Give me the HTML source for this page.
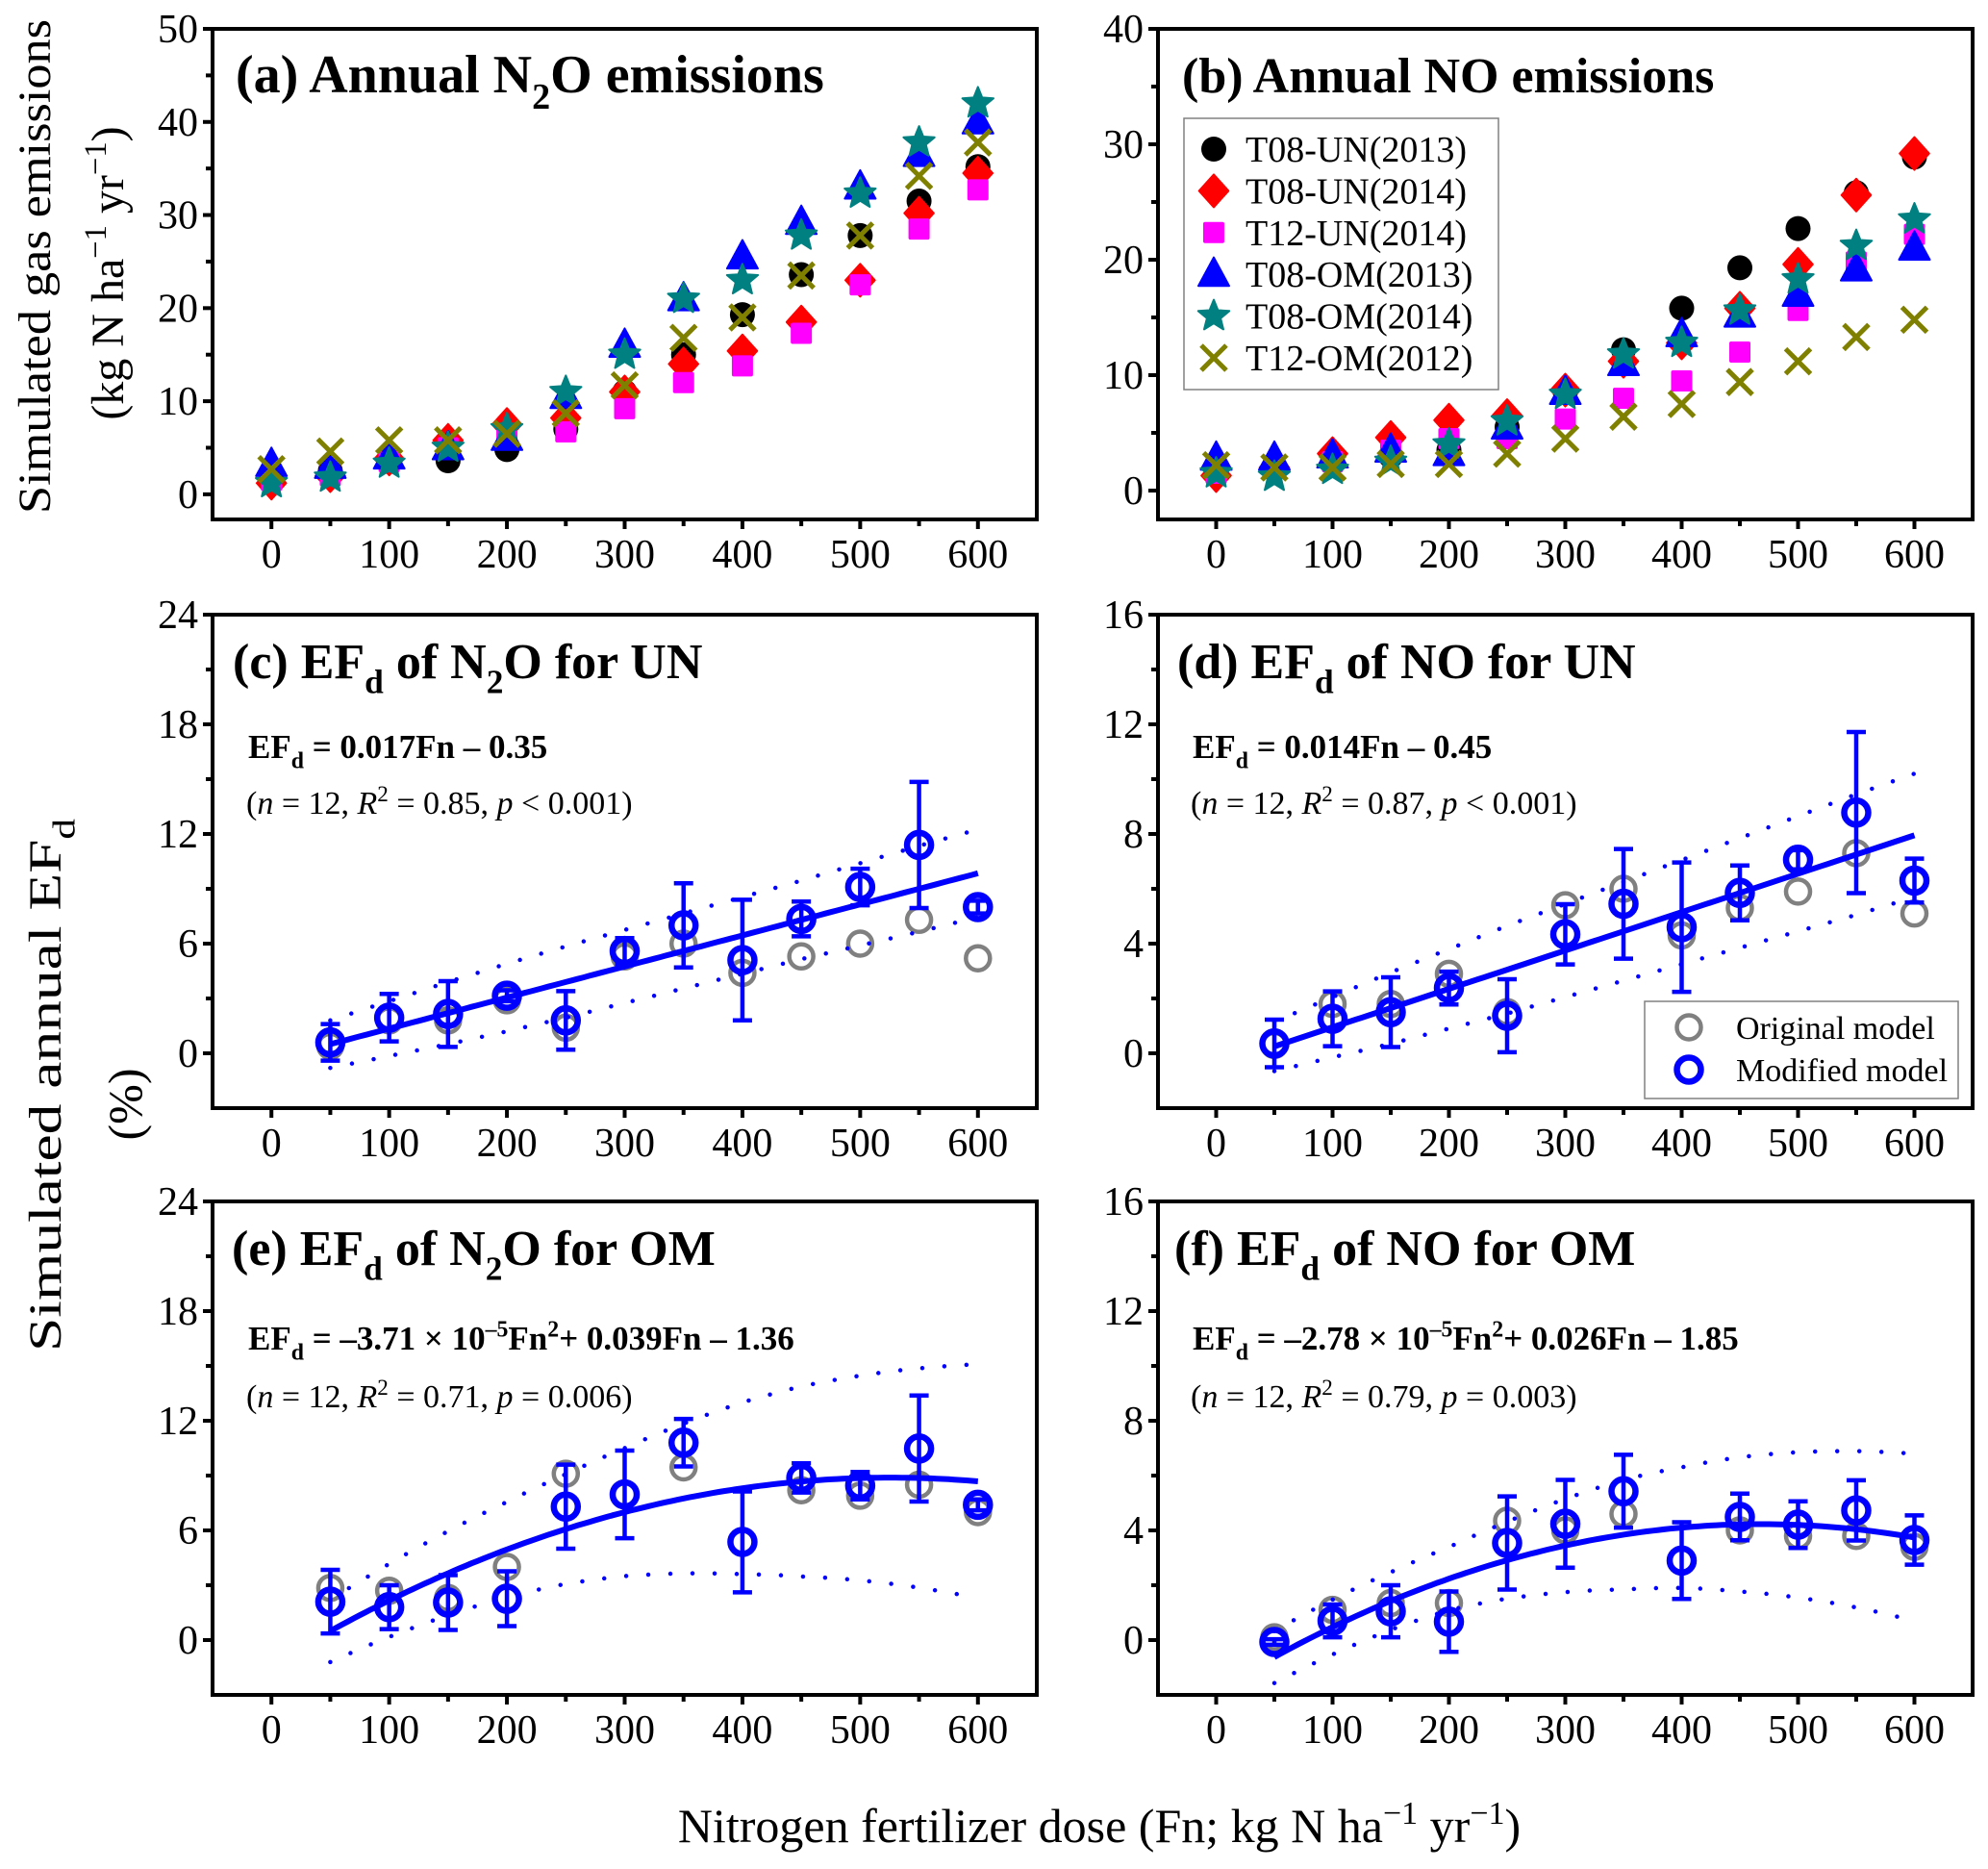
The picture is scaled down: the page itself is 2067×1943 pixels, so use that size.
<!DOCTYPE html>
<html><head><meta charset="utf-8"><title>Simulated emissions and EFd</title>
<style>
html,body{margin:0;padding:0;background:#fff;}
svg{display:block;font-family:"Liberation Serif","Times New Roman",serif;}
</style></head>
<body>
<svg id="fig" xmlns="http://www.w3.org/2000/svg" width="2067" height="1943" viewBox="0 0 2067 1943">
<rect x="0" y="0" width="2067" height="1943" fill="#fff"/>
</svg>
<script>
// ---------- DATA ----------
const doses = [0,50,100,150,200,250,300,350,400,450,500,550,600];
const efDoses = [50,100,150,200,250,300,350,400,450,500,550,600];

const n2oLabels = ["T08-UN(2013)","T08-UN(2014)","T12-UN(2014)","T08-OM(2013)","T08-OM(2014)","T12-OM(2012)"];
// Panel (a) N2O
const n2o_t08un2013 = [2.2,2.5,3.5,3.6,4.8,7.0,11.0,15.0,19.3,23.6,27.8,31.5,35.2];
const n2o_t08un2014 = [1.2,2.0,3.8,5.8,7.5,8.2,11.0,14.0,15.4,18.5,23.0,30.2,34.5];
const n2o_t12un2014 = [1.5,2.0,3.5,5.0,6.5,6.7,9.2,12.0,13.8,17.3,22.5,28.5,32.7];
const n2o_t08om2013 = [3.2,3.0,4.0,5.0,6.0,10.5,16.0,21.0,25.5,29.2,33.0,36.5,40.0];
const n2o_t08om2014 = [1.2,1.8,3.3,5.0,7.0,11.0,15.0,21.0,23.0,27.8,32.3,37.8,42.0];
const n2o_t12om2012 = [2.7,4.6,5.8,5.8,6.5,8.7,11.7,16.8,19.0,23.5,27.8,34.2,37.8];
// Panel (b) NO
const no_t08un2013 = [2.0,2.0,2.5,3.0,3.5,5.5,8.5,12.2,15.8,19.3,22.7,25.8,28.9];
const no_t08un2014 = [1.3,2.0,3.2,4.6,6.1,6.5,8.7,11.2,12.8,15.8,19.6,25.6,29.2];
const no_t12un2014 = [1.5,2.0,2.5,3.5,4.5,4.5,6.2,8.0,9.5,12.0,15.6,19.8,22.2];
const no_t08om2013 = [2.8,2.8,3.0,3.5,3.2,5.5,8.5,11.0,13.5,15.2,17.0,19.2,21.0];
const no_t08om2014 = [1.5,1.2,1.8,2.5,4.0,6.0,8.3,11.8,12.8,15.6,18.3,21.2,23.5];
const no_t12om2012 = [2.2,2.0,2.0,2.3,2.3,3.2,4.5,6.4,7.5,9.4,11.2,13.3,14.8];

// Panel (c) EFd N2O UN
const c_original = [0.4,1.8,1.8,2.9,1.4,5.3,6.0,4.4,5.3,6.0,7.3,5.2];
const c_modified = [0.6,1.95,2.15,3.15,1.8,5.6,7.0,5.1,7.35,9.1,11.4,8.0];
const c_error = [1.0,1.3,1.8,0.3,1.6,0.7,2.3,3.3,0.95,1.0,3.45,0.35];
const c_fit = [0, 0.017, -0.35];
const c_band = [1.3,1.5,1.7,1.85,1.95,2.0,2.05,2.1,2.15,2.25,2.35,2.4];
// Panel (d) EFd NO UN
const d_original = [0.3,1.8,1.8,2.9,1.5,5.4,6.0,4.3,5.3,5.9,7.3,5.1];
const d_modified = [0.36,1.26,1.5,2.38,1.37,4.34,5.45,4.6,5.85,7.06,8.78,6.3];
const d_error = [0.87,1.0,1.27,0.6,1.33,1.1,2.0,2.36,1.0,0.35,2.94,0.8];
const d_fit = [0, 0.014, -0.45];
const d_band = [0.9,1.1,1.3,1.45,1.6,1.7,1.8,1.9,2.0,2.1,2.2,2.25];
// Panel (e) EFd N2O OM
const e_original = [2.85,2.7,2.3,4.0,9.1,8.0,9.45,5.4,8.2,7.9,8.5,7.0];
const e_modified = [2.1,1.8,2.05,2.26,7.3,7.97,10.8,5.37,8.87,8.45,10.48,7.4];
const e_error = [1.74,1.2,1.5,1.5,2.3,2.4,1.3,2.76,0.8,0.75,2.9,0.3];
const e_fit = [-3.71e-5, 0.039, -1.36];
const e_band = [1.7,2.0,2.3,2.6,3.0,3.5,4.1,4.7,5.2,5.6,6.0,6.4];
// Panel (f) EFd NO OM
const f_original = [0.1,1.1,1.35,1.35,4.35,4.0,4.6,2.9,4.0,3.8,3.8,3.4];
const f_modified = [-0.07,0.7,1.05,0.67,3.54,4.24,5.43,2.9,4.49,4.21,4.73,3.65];
const f_error = [0.1,0.6,0.95,1.1,1.7,1.6,1.33,1.4,0.85,0.85,1.1,0.9];
const f_fit = [-2.78e-5, 0.026, -1.85];
const f_band = [0.95,1.0,1.05,1.15,1.4,1.7,2.0,2.2,2.45,2.65,2.85,3.05];

const xTickLabels = ["0","100","200","300","400","500","600"];
const yTicksA = [0,10,20,30,40,50];
const yTicksB = [0,10,20,30,40];
const yTicksN2OEF = [0,6,12,18,24];
const yTicksNOEF = [0,4,8,12,16];

// ---------- HELPERS ----------
const NS = "http://www.w3.org/2000/svg";
const svg = document.getElementById("fig");
function mk(tag, attrs, parent){
  const el = document.createElementNS(NS, tag);
  for (const k in attrs) el.setAttribute(k, attrs[k]);
  (parent || svg).appendChild(el);
  return el;
}
function rich(parent, x, y, parts, size, weight, anchor){
  const t = mk("text", {x:x, y:y, "font-size":size, "font-weight":weight||"normal", "text-anchor":anchor||"start", fill:"#000"}, parent);
  let shift = 0;
  parts.forEach(p => {
    const [s, kind] = p;
    const ts = mk("tspan", {}, t);
    let target = 0, fs = size;
    if (kind === "sub"){ target = size*0.3; fs = size*0.68; }
    else if (kind === "sup"){ target = -size*0.38; fs = size*0.68; }
    ts.setAttribute("dy", target - shift);
    shift = target;
    ts.setAttribute("font-size", fs);
    if (kind === "i") ts.setAttribute("font-style", "italic");
    ts.textContent = s;
  });
  return t;
}

function makePanel(p){
  const g = mk("g", {});
  
  
  p.g = g;
  p.sx = v => p.x0 + (v - p.xmin) / (p.xmax - p.xmin) * (p.x1 - p.x0);
  p.sy = v => p.y1 - (v - p.ymin) / (p.ymax - p.ymin) * (p.y1 - p.y0);
  const ax = mk("g", {stroke:"#000", "stroke-width":4}, g);
  
  
  for (let v = 0; v <= 600; v += 50){
    const major = v % 100 === 0;
    mk("line", {x1:p.sx(v), x2:p.sx(v), y1:p.y1, y2:p.y1 + (major?10:7)}, ax);
  }
  p.yticks.forEach((v,i) => {
    mk("line", {x1:p.x0 - 10, x2:p.x0, y1:p.sy(v), y2:p.sy(v)}, ax);
    if (i < p.yticks.length - 1){
      const m = (v + p.yticks[i+1]) / 2;
      mk("line", {x1:p.x0 - 7, x2:p.x0, y1:p.sy(m), y2:p.sy(m)}, ax);
    }
  });
  const frame = mk("rect", {x:p.x0, y:p.y0, width:p.x1-p.x0, height:p.y1-p.y0, fill:"none", stroke:"#000", "stroke-width":4}, g);
  
  
  xTickLabels.forEach(s => {
    const t = mk("text", {x:p.sx(+s), y:p.y1 + 50, "font-size":42, "text-anchor":"middle"}, g);
    
    
    t.textContent = s;
  });
  p.yticks.forEach(v => {
    const t = mk("text", {x:p.x0 - 15, y:p.sy(v) + 14, "font-size":42, "text-anchor":"end"}, g);
    
    
    t.textContent = String(v);
  });
  return p;
}

function marker(parent, kind, cx, cy, scale){
  const s = scale || 1;
  let el;
  if (kind === "circle") el = mk("circle", {cx:cx, cy:cy, r:13*s, fill:"#000"}, parent);
  else if (kind === "diamond"){ const r=17*s; el = mk("polygon", {points:`${cx},${cy-r} ${cx+r*0.9},${cy} ${cx},${cy+r} ${cx-r*0.9},${cy}`, fill:"#ff0000", "stroke":"#ff0000","stroke-width":2,"stroke-linejoin":"round"}, parent); }
  else if (kind === "square"){ const r=11*s; el = mk("rect", {x:cx-r, y:cy-r, width:2*r, height:2*r, rx:2, fill:"#ff00ff"}, parent); }
  else if (kind === "triangle"){ const r=16*s; el = mk("polygon", {points:`${cx},${cy-r*1.1} ${cx+r},${cy+r*0.75} ${cx-r},${cy+r*0.75}`, fill:"#0000ff","stroke":"#0000ff","stroke-width":2,"stroke-linejoin":"round"}, parent); }
  else if (kind === "star"){
    const R=17*s, r=7.5*s; let pts=[];
    for (let i=0;i<10;i++){ const a=-Math.PI/2 + i*Math.PI/5; const rr = i%2?r:R; pts.push((cx+rr*Math.cos(a)).toFixed(1)+","+(cy+rr*Math.sin(a)).toFixed(1)); }
    el = mk("polygon", {points:pts.join(" "), fill:"#008080","stroke":"#008080","stroke-width":2,"stroke-linejoin":"round"}, parent);
  }
  else if (kind === "x"){
    const r=13*s;
    el = mk("path", {d:`M${cx-r},${cy-r}L${cx+r},${cy+r}M${cx+r},${cy-r}L${cx-r},${cy+r}`, stroke:"#808000", "stroke-width":5, fill:"none"}, parent);
  }
  return el;
}
const kinds = ["circle","diamond","square","triangle","star","x"];

function drawScatter(p, seriesList, prefix){
  seriesList.forEach((arr, si) => {
    const sg = mk("g", {}, p.g);
    
    
    arr.forEach((v, i) => {
      const m = marker(sg, kinds[si], p.sx(doses[i]), p.sy(v));
      
      
    });
  });
}

function fitVal(c, x){ return c[0]*x*x + c[1]*x + c[2]; }
function bandAt(band, x){
  const i = Math.min(Math.max(Math.floor((x-50)/50),0),10);
  const t = (x - efDoses[i]) / 50;
  return band[i] + (band[i+1]-band[i]) * t;
}

function drawEF(p, orig, mod, err, fit, band){
  const og = mk("g", {}, p.g);
  
  
  orig.forEach((v,i) => {
    const c = mk("circle", {cx:p.sx(efDoses[i]), cy:p.sy(v), r:12.5, fill:"none", stroke:"#808080", "stroke-width":4.5}, og);
    
    
  });
  let fitPts = [], up = [], lo = [];
  for (let x = 50; x <= 600.01; x += 5){
    const y = fitVal(fit, x), h = bandAt(band, x);
    fitPts.push(p.sx(x).toFixed(1)+","+p.sy(y).toFixed(1));
    up.push(p.sx(x).toFixed(1)+","+p.sy(y+h).toFixed(1));
    lo.push(p.sx(x).toFixed(1)+","+p.sy(y-h).toFixed(1));
  }
  const bu = mk("polyline", {points:up.join(" "), fill:"none", stroke:"#0000ff", "stroke-width":4.5, "stroke-linecap":"round", "stroke-dasharray":"0 23"}, p.g);
  
  
  const bl = mk("polyline", {points:lo.join(" "), fill:"none", stroke:"#0000ff", "stroke-width":4.5, "stroke-linecap":"round", "stroke-dasharray":"0 23"}, p.g);
  
  
  const fl = mk("polyline", {points:fitPts.join(" "), fill:"none", stroke:"#0000ff", "stroke-width":6}, p.g);
  
  
  const mg = mk("g", {}, p.g);
  
  
  mod.forEach((v,i) => {
    const cx = p.sx(efDoses[i]);
    const yt = p.sy(v + err[i]), yb = p.sy(v - err[i]);
    const eb = mk("path", {d:`M${cx},${yt}V${yb}M${cx-10},${yt}H${cx+10}M${cx-10},${yb}H${cx+10}`, stroke:"#0000ff", "stroke-width":4.5, fill:"none"}, mg);
    
    
    const c = mk("circle", {cx:cx, cy:p.sy(v), r:12.5, fill:"none", stroke:"#0000ff", "stroke-width":6.5}, mg);
    
    
  });
}

// ---------- PANELS ----------
const pA = makePanel({name:"panel-a-n2o-emissions", x0:221, x1:1078, y0:30, y1:540, xmin:-50, xmax:650, ymin:-2.7, ymax:50, yticks:yTicksA});
const pB = makePanel({name:"panel-b-no-emissions", x0:1204, x1:2051, y0:30, y1:540, xmin:-50, xmax:650, ymin:-2.5, ymax:40, yticks:yTicksB});
const pC = makePanel({name:"panel-c-efd-n2o-un", x0:221, x1:1078, y0:639, y1:1152, xmin:-50, xmax:650, ymin:-3, ymax:24, yticks:yTicksN2OEF});
const pD = makePanel({name:"panel-d-efd-no-un", x0:1204, x1:2051, y0:639, y1:1152, xmin:-50, xmax:650, ymin:-2, ymax:16, yticks:yTicksNOEF});
const pE = makePanel({name:"panel-e-efd-n2o-om", x0:221, x1:1078, y0:1249, y1:1762, xmin:-50, xmax:650, ymin:-3, ymax:24, yticks:yTicksN2OEF});
const pF = makePanel({name:"panel-f-efd-no-om", x0:1204, x1:2051, y0:1249, y1:1762, xmin:-50, xmax:650, ymin:-2, ymax:16, yticks:yTicksNOEF});

drawScatter(pA, [n2o_t08un2013,n2o_t08un2014,n2o_t12un2014,n2o_t08om2013,n2o_t08om2014,n2o_t12om2012], "n2o");
drawScatter(pB, [no_t08un2013,no_t08un2014,no_t12un2014,no_t08om2013,no_t08om2014,no_t12om2012], "no");
drawEF(pC, c_original, c_modified, c_error, c_fit, c_band);
drawEF(pD, d_original, d_modified, d_error, d_fit, d_band);
drawEF(pE, e_original, e_modified, e_error, e_fit, e_band);
drawEF(pF, f_original, f_modified, f_error, f_fit, f_band);

// ---------- TITLES ----------
let t;
t = rich(pA.g, 245, 96, [["(a) Annual N"],["2","sub"],["O emissions"]], 56, "bold");


t = rich(pB.g, 1229, 96, [["(b) Annual NO emissions"]], 52, "bold");


t = rich(pC.g, 242, 705, [["(c) EF"],["d","sub"],[" of N"],["2","sub"],["O for UN"]], 52, "bold");


t = rich(pD.g, 1224, 705, [["(d) EF"],["d","sub"],[" of NO for UN"]], 52, "bold");


t = rich(pE.g, 241, 1315, [["(e) EF"],["d","sub"],[" of N"],["2","sub"],["O for OM"]], 52, "bold");


t = rich(pF.g, 1221, 1315, [["(f) EF"],["d","sub"],[" of NO for OM"]], 52, "bold");



t = rich(pC.g, 258, 788, [["EF"],["d","sub"],[" = 0.017Fn – 0.35"]], 35, "bold");


t = rich(pC.g, 256, 846, [["("],["n","i"],[" = 12, "],["R","i"],["2","sup"],[" = 0.85, "],["p","i"],[" < 0.001)"]], 34, "normal");


t = rich(pD.g, 1240, 788, [["EF"],["d","sub"],[" = 0.014Fn – 0.45"]], 35, "bold");


t = rich(pD.g, 1238, 846, [["("],["n","i"],[" = 12, "],["R","i"],["2","sup"],[" = 0.87, "],["p","i"],[" < 0.001)"]], 34, "normal");


t = rich(pE.g, 258, 1403, [["EF"],["d","sub"],[" = –3.71 × 10"],["–5","sup"],["Fn"],["2","sup"],["+ 0.039Fn – 1.36"]], 35, "bold");


t = rich(pE.g, 256, 1463, [["("],["n","i"],[" = 12, "],["R","i"],["2","sup"],[" = 0.71, "],["p","i"],[" = 0.006)"]], 34, "normal");


t = rich(pF.g, 1240, 1403, [["EF"],["d","sub"],[" = –2.78 × 10"],["–5","sup"],["Fn"],["2","sup"],["+ 0.026Fn – 1.85"]], 35, "bold");


t = rich(pF.g, 1238, 1463, [["("],["n","i"],[" = 12, "],["R","i"],["2","sup"],[" = 0.79, "],["p","i"],[" = 0.003)"]], 34, "normal");



// ---------- LEGEND (b) ----------
const lg = mk("g", {}, pB.g);


mk("rect", {x:1231, y:123, width:327, height:282, fill:"#fff", stroke:"#808080", "stroke-width":1.5}, lg);
n2oLabels.forEach((lab, i) => {
  const y = 155 + i*43.4;
  const e = mk("g", {}, lg);
  
  
  marker(e, kinds[i], 1262, y);
  const tx = mk("text", {x:1295, y:y+13, "font-size":38}, e);
  tx.textContent = lab;
});

// ---------- LEGEND (d) ----------
const lg2 = mk("g", {}, pD.g);


mk("rect", {x:1710, y:1041, width:326, height:101, fill:"#fff", stroke:"#808080", "stroke-width":1.5}, lg2);
const le1 = mk("g", {}, lg2);


mk("circle", {cx:1756, cy:1068, r:12.5, fill:"none", stroke:"#808080", "stroke-width":4.5}, le1);
const lt1 = mk("text", {x:1805, y:1080, "font-size":34}, le1);
lt1.textContent = "Original model";
const le2 = mk("g", {}, lg2);


mk("circle", {cx:1756, cy:1112, r:12.5, fill:"none", stroke:"#0000ff", "stroke-width":6.5}, le2);
const lt2 = mk("text", {x:1805, y:1124, "font-size":34}, le2);
lt2.textContent = "Modified model";

// ---------- AXIS TITLES ----------
const yl1 = mk("text", {x:0, y:0, "font-size":48, "text-anchor":"middle", transform:"translate(52,277) rotate(-90)", textLength:514, lengthAdjust:"spacingAndGlyphs"});


yl1.textContent = "Simulated gas emissions";
const yl2 = rich(svg, 0, 0, [["(","n"],["kg N ha"],["−1","sup"],[" yr"],["−1","sup"],[")"]], 48, "normal", "middle");
yl2.setAttribute("transform", "translate(128,284) rotate(-90)");


const yl3 = rich(svg, 0, 0, [["Simulated annual EF"],["d","sub"]], 48, "normal", "middle");
yl3.setAttribute("transform", "translate(63,1128) rotate(-90)");
yl3.setAttribute("textLength", "554");
yl3.setAttribute("lengthAdjust", "spacingAndGlyphs");


const yl4 = mk("text", {x:0, y:0, "font-size":50, "text-anchor":"middle", transform:"translate(147,1148) rotate(-90)"});


yl4.textContent = "(%)";
const xl = rich(svg, 1143, 1915, [["Nitrogen fertilizer dose (Fn; kg N ha"],["−1","sup"],[" yr"],["−1","sup"],[")"]], 50, "normal", "middle");


</script>
</body></html>
